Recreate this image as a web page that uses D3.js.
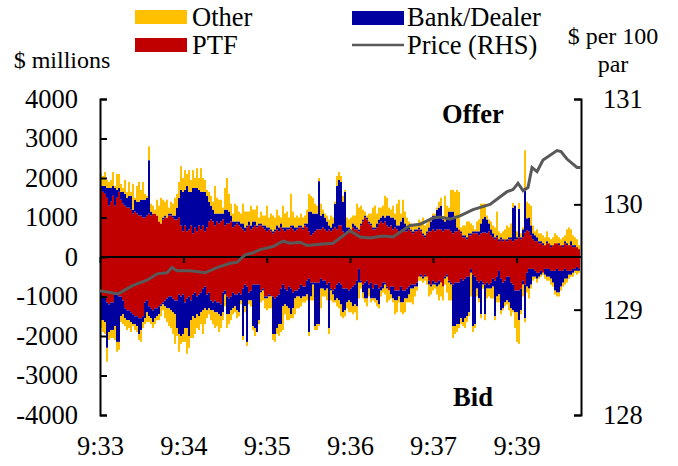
<!DOCTYPE html>
<meta charset="utf-8">
<style>
body {
    margin: 0;
    background: #fff;
    font-family: "Liberation Serif", "Times New Roman", serif;
}

text {
    fill: #000;
}

.axis path, .axis line {
    stroke: #000;
    stroke-width: 2px;
}

.axis text {
    font-family: "Liberation Serif", "Times New Roman", serif;
    font-size: 26.5px;
}
</style>
<body>
<script src="https://d3js.org/d3.v7.min.js"></script>
<script>
var width = 678,
    height = 466;

var leftTicks = [4000, 3000, 2000, 1000, 0, -1000, -2000, -3000, -4000];
var rightTicks = [131, 130, 129, 128];
var timeLabels = ["9:33", "9:34", "9:35", "9:36", "9:37", "9:39"];
var timeTicks = [0, 41.7, 83.4, 125, 166.5, 208.3];

var offerPtf = [
    1700,1650,1600,1500,1300,1400,1550,1300,1500,1650,1450,1350,1300,1250,1250,1200,1100,1150,1100,1050,
    1050,1000,1000,1050,1100,1050,1100,1100,1050,900,850,950,1000,1000,1050,1050,1000,950,950,1000,
    800,650,800,650,700,800,600,750,650,800,700,800,650,750,900,950,900,800,900,850,
    900,950,800,850,850,900,750,800,850,800,750,700,650,750,800,700,750,800,750,800,
    800,750,700,650,700,650,600,650,700,650,750,700,650,700,700,750,700,650,700,750,
    750,700,800,750,650,550,600,650,700,700,700,750,700,650,700,650,700,750,700,800,
    800,650,600,650,700,650,750,700,700,650,800,900,1000,950,850,800,700,700,750,850,
    900,850,900,800,750,800,700,750,700,650,650,700,650,650,700,650,600,650,650,700,
    650,550,500,600,650,650,700,650,700,700,700,650,700,700,700,650,600,650,650,700,
    600,500,500,450,550,550,600,600,600,550,600,620,620,600,650,550,500,450,500,400,
    450,400,450,400,450,450,400,450,450,500,450,500,620,680,650,550,450,400,400,350,
    350,300,300,350,350,250,300,350,350,300,300,250,350,300,300,300,250,250,250,200
];
var offerBank = [
    100,150,200,250,450,350,250,450,200,100,200,300,300,250,300,350,100,300,300,350,
    400,450,450,450,1350,100,0,0,0,0,0,50,50,0,50,50,50,100,300,500,
    900,1000,900,1150,950,850,1150,1000,1100,900,950,850,1000,800,500,350,300,300,200,250,
    200,150,400,350,300,150,150,100,50,100,100,150,100,50,100,100,150,100,50,50,
    50,50,100,100,50,50,50,50,100,100,100,50,100,50,50,50,100,100,50,50,
    50,50,50,100,500,600,500,450,400,1220,350,350,300,250,100,100,150,600,1100,1150,
    1100,750,1050,100,50,50,100,100,50,50,50,50,50,50,50,50,50,50,100,100,
    100,200,100,250,300,200,300,200,100,150,250,300,200,100,50,50,50,50,50,50,
    50,50,50,50,100,250,350,400,500,550,600,300,200,250,450,500,550,350,100,0,
    50,50,50,50,50,50,50,50,50,100,250,350,400,350,200,150,100,50,50,50,
    50,50,0,50,50,50,850,850,50,720,50,200,1050,300,350,250,150,150,100,50,
    50,50,0,50,0,50,0,0,0,50,0,50,50,50,0,100,50,50,0,0
];
var offerOther = [
    300,250,350,200,150,200,350,50,400,350,200,100,350,150,350,100,650,50,400,500,
    250,450,150,50,350,200,200,100,400,400,650,450,350,450,150,300,300,450,350,400,
    600,350,500,300,550,300,450,250,500,300,600,350,300,150,250,250,200,700,400,350,
    350,150,550,800,450,300,200,450,400,250,250,500,400,350,250,500,300,300,500,150,
    300,250,250,550,250,400,400,300,400,300,150,550,350,400,250,800,350,250,300,200,
    300,250,200,350,450,400,400,250,200,80,300,100,100,150,150,300,150,50,250,200,
    150,150,50,250,200,300,200,250,600,550,450,250,100,50,200,250,500,550,250,300,
    250,250,550,450,200,200,300,150,550,650,200,450,300,250,150,150,150,100,100,200,
    200,400,250,200,200,100,50,50,50,150,200,50,650,350,100,550,550,650,950,950,
    100,250,250,400,300,250,150,50,250,300,500,380,330,100,100,200,200,250,600,200,
    100,200,250,350,250,350,120,0,150,150,100,50,1030,420,350,500,200,100,200,200,
    200,200,200,250,150,150,200,250,200,150,150,200,150,350,450,300,250,200,200,100
];

var bidPtf = [
    950,1000,1000,1150,1200,1150,1150,950,950,1000,1000,1100,1300,1350,1350,1400,1450,1500,1500,1550,
    1550,1500,1150,1100,1250,1300,1350,1300,1300,1250,1200,1150,1100,1050,1000,1000,1050,1100,1100,950,
    1000,950,1150,1050,1000,1100,950,900,1000,950,900,800,750,950,900,1100,1150,1100,1150,1150,
    1200,900,850,1000,1050,1000,900,950,950,900,950,800,700,750,900,850,700,700,700,700,
    850,800,1000,1000,950,1000,1000,1050,1000,950,800,700,800,850,750,800,900,850,850,800,
    700,750,750,600,550,650,650,650,650,650,550,600,600,700,650,800,850,800,700,650,
    700,800,800,800,850,800,750,700,600,300,600,700,650,600,700,650,800,700,700,800,
    750,650,650,750,850,750,750,850,850,850,750,850,850,800,750,700,700,700,650,500,
    450,500,450,500,600,700,600,650,650,600,650,750,500,450,600,650,700,650,650,650,
    550,600,550,500,500,300,450,500,600,650,600,650,700,650,700,650,550,600,500,350,
    550,650,600,500,500,650,700,850,850,850,800,600,700,400,300,300,300,350,400,400,
    350,400,300,300,300,350,350,350,300,350,350,350,300,350,350,350,300,300,250,300
];
var bidBank = [
    650,600,650,1150,700,700,700,800,1200,1150,500,350,250,250,250,250,250,200,250,400,
    300,150,400,300,250,250,300,250,200,200,50,50,150,250,300,350,350,350,700,1000,
    1000,1000,650,750,1000,500,550,650,450,550,500,550,550,400,400,250,200,300,250,300,
    300,500,100,450,400,350,400,300,400,500,150,1200,550,1400,200,250,1050,1100,1200,900,
    50,50,50,50,50,0,950,900,800,750,900,550,400,400,550,650,400,200,150,200,
    350,250,250,350,1350,350,50,1100,1050,1050,250,200,250,100,1150,50,100,300,350,450,
    500,600,550,350,250,350,500,500,650,350,50,200,400,450,100,400,250,350,400,400,
    100,150,50,50,0,200,300,250,250,150,400,300,200,250,200,100,100,50,100,0,
    50,50,50,0,100,50,100,50,100,100,0,0,50,50,50,50,1050,1100,1050,1050,
    1000,1050,1000,1000,900,100,1300,1200,200,400,850,50,750,150,100,150,200,900,500,600,
    800,650,550,600,650,650,650,550,550,750,550,100,850,350,500,400,200,150,150,100,
    100,0,150,200,200,200,300,500,600,550,400,300,250,200,100,100,100,50,100,50
];
var bidOther = [
    200,300,300,350,200,200,200,350,250,200,150,250,200,250,200,250,50,150,150,150,
    300,150,150,250,150,150,150,150,100,150,250,150,300,350,450,450,550,750,200,450,
    200,200,350,650,300,450,550,400,350,350,300,600,400,200,150,250,350,400,350,450,
    300,200,300,350,250,250,150,150,200,100,100,100,150,100,100,150,100,200,0,100,
    250,250,250,300,300,300,150,200,150,300,200,600,250,350,300,100,250,400,300,300,
    200,150,150,150,100,100,400,100,150,50,500,200,150,300,150,250,200,50,200,200,
    300,150,150,150,300,250,200,200,350,400,150,150,100,200,200,100,50,100,150,100,
    150,100,250,350,250,100,100,350,300,150,250,300,350,100,200,350,400,250,100,100,
    100,100,100,200,300,200,150,100,200,400,350,350,150,400,450,400,300,200,200,100,
    150,100,250,150,100,600,150,100,200,100,100,100,150,250,200,250,300,100,150,200,
    100,50,100,100,200,200,50,400,750,600,100,300,100,150,250,100,100,50,100,50,
    50,50,100,100,100,150,100,100,100,100,100,100,150,100,100,50,100,50,100,50
];

// price is read at fewer points than the bars, priceAt is the bar position
var priceAt = [0,9,16.5,23.5,28.5,33.5,36,38.5,45,52.5,58.5,65,68.5,72.5,76.5,80,86.5,91.5,95,100,
    103.5,110,116.5,120,125,130,135,141.5,146.5,155,160,166.5,170,175,180,186.5,195,203.5,206.5,209,
    211.5,214,216,218.5,221.5,228.5,230.5,233.5,238.5,240.5];
var price = [129.18,129.15,129.23,129.28,129.34,129.35,129.40,129.37,129.37,129.35,129.40,129.44,129.45,129.52,129.54,129.57,129.60,129.65,129.63,129.64,
    129.61,129.62,129.63,129.68,129.75,129.69,129.68,129.70,129.69,129.80,129.81,129.87,129.88,129.86,129.89,129.95,130.00,130.12,130.14,130.20,
    130.13,130.16,130.35,130.31,130.42,130.51,130.50,130.43,130.35,130.35];

var colors = {ptf: "#C00000", bank: "#0000A0", other: "#FFC000"};

var svg = d3.select("body").append("svg")
    .attr("width", width)
    .attr("height", height);

var xPos = d3.scaleLinear().domain([0, 240]).range([100, 580]);
var x = d3.scaleBand().domain(d3.range(offerPtf.length)).range([100, 580]).padding(0);
var y = d3.scaleLinear().domain([-4000, 4000]).range([415, 99]);
var yPrice = d3.scaleLinear().domain([128, 131]).range([415, 99]);

var offerRows = offerPtf.map(function(d, i) {
    return {ptf: d, bank: offerBank[i], other: offerOther[i]};
});
var bidRows = bidPtf.map(function(d, i) {
    return {ptf: -d, bank: -bidBank[i], other: -bidOther[i]};
});

var stack = d3.stack()
    .keys(["ptf", "bank", "other"])
    .offset(d3.stackOffsetDiverging);

[offerRows, bidRows].forEach(function(rows) {
    svg.append("g")
        .selectAll("g")
        .data(stack(rows))
        .enter()
        .append("g")
        .attr("fill", function(d) { return colors[d.key]; })
        .selectAll("rect")
        .data(function(d) { return d; })
        .enter()
        .append("rect")
        .attr("x", function(d, i) { return x(i); })
        .attr("width", x.bandwidth())
        .attr("y", function(d) { return Math.min(y(d[0]), y(d[1])); })
        .attr("height", function(d) { return Math.abs(y(d[0]) - y(d[1])); });
});

// axes
svg.append("g")
    .attr("class", "axis")
    .attr("transform", "translate(100,0)")
    .call(d3.axisLeft(y).tickValues(leftTicks).tickFormat(String)
        .tickSizeInner(-7).tickSizeOuter(-7).tickPadding(22));

svg.append("g")
    .attr("class", "axis")
    .attr("transform", "translate(581,0)")
    .call(d3.axisRight(yPrice).tickValues(rightTicks).tickFormat(String)
        .tickSizeInner(-7).tickSizeOuter(-7).tickPadding(22));

var xAxis = svg.append("g")
    .attr("class", "axis")
    .attr("transform", "translate(0," + y(0) + ")")
    .call(d3.axisBottom(xPos).tickValues(timeTicks)
        .tickFormat(function(d, i) { return timeLabels[i]; })
        .tickSizeInner(6).tickSizeOuter(0));
xAxis.select(".domain").attr("d", "M100,0H581");
xAxis.selectAll("text").attr("y", 179);

// price line goes over the zero line
var line = d3.line()
    .x(function(d) { return xPos(d[0]); })
    .y(function(d) { return yPrice(d[1]); });

svg.append("path")
    .datum(d3.zip(priceAt, price))
    .attr("fill", "none")
    .attr("stroke", "#595959")
    .attr("stroke-width", 3)
    .attr("d", line);

// legend
var legendRects = [
    {label: "Other", color: colors.other, x: 135, y: 10},
    {label: "PTF", color: colors.ptf, x: 135, y: 38},
    {label: "Bank/Dealer", color: colors.bank, x: 352, y: 11}
];

svg.append("g")
    .selectAll("rect")
    .data(legendRects)
    .enter()
    .append("rect")
    .attr("x", function(d) { return d.x; })
    .attr("y", function(d) { return d.y; })
    .attr("width", 52)
    .attr("height", 14)
    .attr("fill", function(d) { return d.color; });

svg.append("line")
    .attr("x1", 352).attr("x2", 404)
    .attr("y1", 45).attr("y2", 45)
    .attr("stroke", "#595959")
    .attr("stroke-width", 2.5);

var labels = [
    {t: "Other", x: 192, y: 26, size: 26.5, a: "start"},
    {t: "PTF", x: 192, y: 54, size: 26.5, a: "start"},
    {t: "Bank/Dealer", x: 407, y: 26, size: 26.5, a: "start"},
    {t: "Price (RHS)", x: 407, y: 54, size: 26.5, a: "start"},
    {t: "$ millions", x: 62, y: 68, size: 24, a: "middle"},
    {t: "$ per 100", x: 613, y: 44, size: 24, a: "middle"},
    {t: "par", x: 613, y: 72, size: 24, a: "middle"},
    {t: "Offer", x: 473, y: 123, size: 26.5, a: "middle", w: "bold"},
    {t: "Bid", x: 473, y: 406, size: 26.5, a: "middle", w: "bold"}
];

svg.append("g")
    .selectAll("text")
    .data(labels)
    .enter()
    .append("text")
    .attr("x", function(d) { return d.x; })
    .attr("y", function(d) { return d.y; })
    .attr("text-anchor", function(d) { return d.a; })
    .attr("font-size", function(d) { return d.size; })
    .attr("font-weight", function(d) { return d.w || "normal"; })
    .text(function(d) { return d.t; });
</script>
</body>
